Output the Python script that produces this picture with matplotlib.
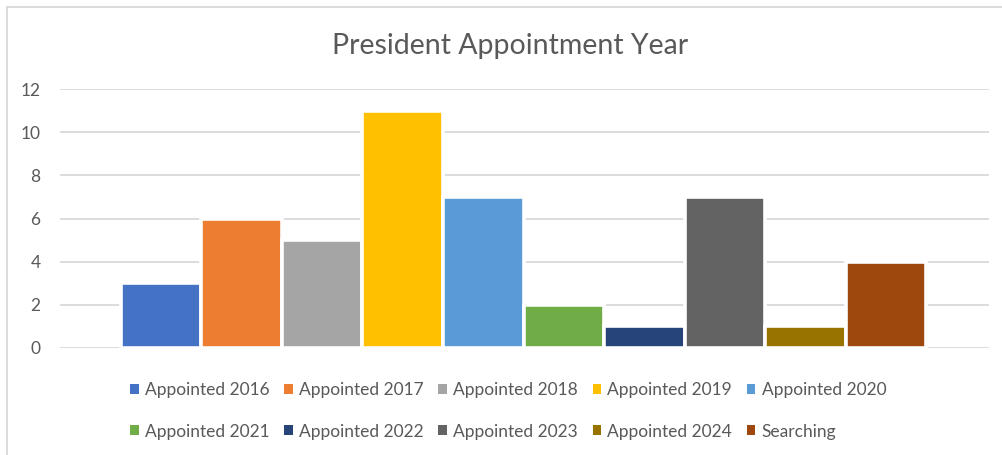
import matplotlib
matplotlib.use("Agg")
import matplotlib.pyplot as plt
from matplotlib.patches import Patch
from matplotlib.lines import Line2D

categories = ["Appointed 2016", "Appointed 2017", "Appointed 2018", "Appointed 2019",
              "Appointed 2020", "Appointed 2021", "Appointed 2022", "Appointed 2023",
              "Appointed 2024", "Searching"]
values = [3, 6, 5, 11, 7, 2, 1, 7, 1, 4]
colors = ["#4472C4", "#ED7D31", "#A5A5A5", "#FFC000", "#5B9BD5",
          "#70AD47", "#264478", "#636363", "#997300", "#9E480E"]
yticks = [0, 2, 4, 6, 8, 10, 12]
title = "President Appointment Year"

plt.rcParams['font.family'] = ['Lato', 'DejaVu Sans']
W, H = 1003, 455
fig = plt.figure(figsize=(W / 100, H / 100), dpi=100)
ax = fig.add_axes([60 / W, (H - 348) / H, (989 - 60) / W, (348 - 89) / H])

xs = list(range(len(values)))
ax.bar(xs, values, width=1.0, color=colors, edgecolor="white", linewidth=2.6, zorder=3)

ax.set_ylim(0, 12)
ax.set_xlim(-0.5 - 61 / 81, 9.5 + 63 / 81)
ax.set_yticks(yticks)
ax.set_yticklabels([str(t) for t in yticks])
ax.set_xticks([])
ax.tick_params(axis='y', length=0, pad=14, labelsize=12.5, labelcolor="#595959")
for s in ax.spines.values():
    s.set_visible(False)
ax.yaxis.grid(True, color="#D9D9D9", linewidth=1.3, zorder=0)
ax.set_axisbelow(True)

fig.text(510 / W, 1 - 46 / H, title, ha="center", va="center", fontsize=20.5, color="#595959")

# chart border (partially cropped)
fig.add_artist(Line2D([7 / W, 7 / W], [0, 1 - 7 / H], color="#D9D9D9", linewidth=1.3))
fig.add_artist(Line2D([7 / W, 1], [1 - 7 / H, 1 - 7 / H], color="#D9D9D9", linewidth=1.3))

handles = [Patch(facecolor=c, edgecolor="none") for c in colors]
order = [0, 5, 1, 6, 2, 7, 3, 8, 4, 9]
fig.legend([handles[i] for i in order], [categories[i] for i in order],
           ncol=5, loc="center", bbox_to_anchor=(508 / W, 1 - 411 / H),
           frameon=False, fontsize=12.5, labelcolor="#595959",
           handlelength=0.5, handleheight=0.5, handletextpad=0.35,
           columnspacing=0.85, labelspacing=1.45)

fig.savefig("out.png", dpi=100, facecolor="white")
